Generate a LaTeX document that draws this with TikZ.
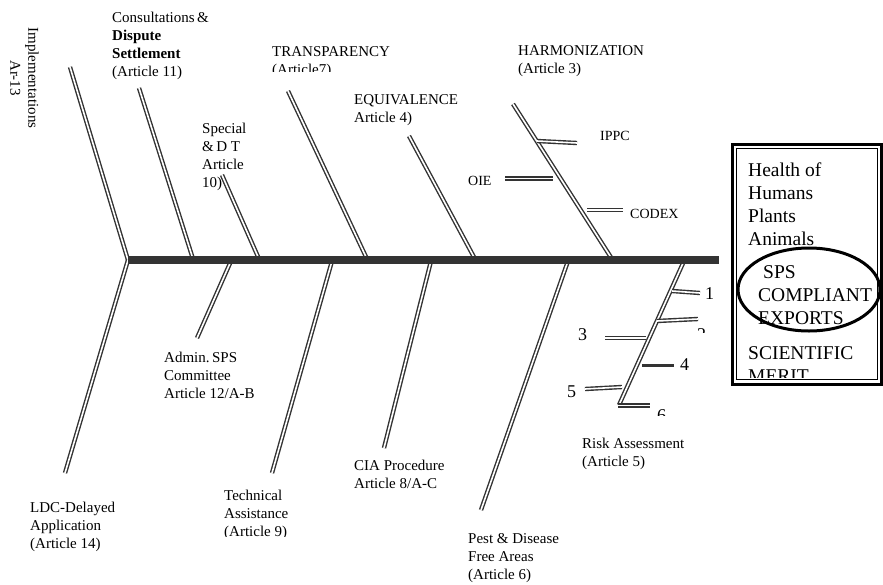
\documentclass[tikz,border=0pt]{standalone}
\usepackage{fontspec}
\setmainfont{Liberation Serif}
\usetikzlibrary{positioning}

\definecolor{bonegray}{HTML}{333333}

\begin{document}
\begin{tikzpicture}[x=1pt, y=-1pt,
	bone/.style = { draw=bonegray, line width=1.4pt, double=white, double distance=1.6pt },
	spine/.style = { draw=bonegray, line width=8pt },
	lbl/.style = { anchor=base west, align=left, inner sep=0pt, font=\fontsize{15}{18}\selectfont },
	big/.style = { lbl, font=\fontsize{19.5}{22.7}\selectfont },
	num/.style = { lbl, font=\fontsize{18}{20}\selectfont }]

  \useasboundingbox (0,0) rectangle (883,584);

  % ends of the bones
  \coordinate (head) at (128,260);
  \coordinate (tail) at (719,260);
  \coordinate (impl-top) at (70,67);
  \coordinate (cons-top) at (139,88);   \coordinate (cons-foot) at (193,259);
  \coordinate (sdt-top) at (222,175);   \coordinate (sdt-foot) at (259,259);
  \coordinate (tran-top) at (288,91);   \coordinate (tran-foot) at (367,259);
  \coordinate (equi-top) at (409,136);  \coordinate (equi-foot) at (475,259);
  \coordinate (harm-top) at (513,104);  \coordinate (harm-foot) at (612,259);
  \coordinate (ldc-end) at (65,473);
  \coordinate (adm-root) at (231,261);  \coordinate (adm-end) at (197,338);
  \coordinate (tech-root) at (332,261); \coordinate (tech-end) at (272,473);
  \coordinate (cia-root) at (431,261);  \coordinate (cia-end) at (384,448);
  \coordinate (pest-root) at (568,261); \coordinate (pest-end) at (481,510);
  \coordinate (risk-root) at (684,261); \coordinate (risk-end) at (619,405);

  \draw[bone] (impl-top) -- (head);
  \draw[bone] (cons-top) -- (cons-foot);
  \draw[bone] (sdt-top) -- (sdt-foot);
  \draw[bone] (tran-top) -- (tran-foot);
  \draw[bone] (equi-top) -- (equi-foot);
  \draw[bone] (harm-top) -- (harm-foot);
  \draw[bone] (head) -- (ldc-end);
  \draw[bone] (adm-root) -- (adm-end);
  \draw[bone] (tech-root) -- (tech-end);
  \draw[bone] (cia-root) -- (cia-end);
  \draw[bone] (pest-root) -- (pest-end);
  \draw[bone] (risk-root) -- (risk-end);
  \draw[spine] (head) -- (tail);

  % harmonization twigs
  \coordinate (ippc-a) at (537,141); \coordinate (ippc-b) at (577,143);
  \coordinate (oie-a) at (505,178.5); \coordinate (oie-b) at (553,178.5);
  \coordinate (codex-a) at (587,210); \coordinate (codex-b) at (623,210);
  \draw[bone] (ippc-a) -- (ippc-b);
  \draw[bone] (oie-a) -- (oie-b);
  \draw[bone] (codex-a) -- (codex-b);
  \node[lbl, font=\fontsize{14}{16}\selectfont] (ippc) at (600,140) {IPPC};
  \node[lbl, font=\fontsize{14}{16}\selectfont] (oie) at (468,185) {OIE};
  \node[lbl, font=\fontsize{14}{16}\selectfont] (codex) at (630,218) {CODEX};

  % risk assessment twigs
  \coordinate (r1-a) at (672,291); \coordinate (r1-b) at (700,293);
  \coordinate (r2-a) at (657,321); \coordinate (r2-b) at (698,319);
  \coordinate (r3-a) at (605,338); \coordinate (r3-b) at (646,338);
  \coordinate (r4-a) at (642,365); \coordinate (r4-b) at (674,365);
  \coordinate (r5-a) at (585,389); \coordinate (r5-b) at (622,387);
  \coordinate (r6-a) at (618,405.5); \coordinate (r6-b) at (650,405.5);
  \draw[bone] (r1-a) -- (r1-b);
  \draw[bone] (r2-a) -- (r2-b);
  \draw[bone] (r3-a) -- (r3-b);
  \draw[draw=bonegray, line width=3pt] (r4-a) -- (r4-b);
  \draw[bone] (r5-a) -- (r5-b);
  \draw[bone] (r6-a) -- (r6-b);
  \node[num] (n1) at (705,299) {1};
  \begin{scope}
    \clip (690,300) rectangle (720,332);
    \node[num] (n2) at (697,340) {2};
  \end{scope}
  \node[num] (n3) at (578,340) {3};
  \node[num] (n4) at (680,370) {4};
  \node[num] (n5) at (567,397) {5};
  \begin{scope}
    \clip (650,395) rectangle (680,415);
    \node[num] (n6) at (657,421) {6};
  \end{scope}

  % labels of the bones (placed at the baseline of their last line)
  \node[lbl, rotate=-90, align=center, anchor=center] (impl) at (24.5,78) {Implementations\\Ar-13};
  \node[lbl] (cons) at (112,76) {Consultations\,\&\\\textbf{Dispute}\\\textbf{Settlement}\\(Article 11)};
  \node[lbl] (sdt) at (202,187) {Special\\\&\,D T\\Article\\10)};
  \begin{scope}
    \clip (260,30) rectangle (420,71.5);
    \node[lbl] (tran) at (272,74) {TRANSPARENCY\\(Article7)};
  \end{scope}
  \begin{scope}
    \clip (340,80) rectangle (464,130);
    \node[lbl] (equi) at (354,122) {EQUIVALENCE\\Article 4)};
  \end{scope}
  \node[lbl] (harm) at (518,73) {HARMONIZATION\\(Article 3)};
  \node[lbl] (adm) at (164,398) {Admin.\,SPS\\Committee\\Article 12/A-B};
  \node[lbl] (ldc) at (30,548) {LDC-Delayed\\Application\\(Article 14)};
  \begin{scope}
    \clip (210,480) rectangle (340,536.5);
    \node[lbl] (tech) at (224,536) {Technical\\Assistance\\(Article 9)};
  \end{scope}
  \node[lbl] (cia) at (354,488) {CIA Procedure\\Article 8/A-C};
  \node[lbl] (pest) at (468,579) {Pest \& Disease\\Free Areas\\(Article 6)};
  \node[lbl] (risk) at (582,466) {Risk Assessment\\(Article 5)};

  % the outcome box
  \draw[line width=3pt] (732.5,144.5) rectangle (881.5,384.5);
  \draw[line width=1pt] (736.5,148.5) rectangle (877.5,379.5);
  \node[big] (health) at (748,245) {Health of\\Humans\\Plants\\Animals};
  \node[big] (sps) at (758,324) {\hspace*{5pt}SPS\\COMPLIANT\\EXPORTS};
  \begin{scope}
    \clip (740,340) rectangle (876,377.5);
    \node[big] (merit) at (748,382) {SCIENTIFIC\\MERIT};
  \end{scope}
  \draw[line width=3pt] (809,289.5) ellipse[x radius=71, y radius=41.5];
\end{tikzpicture}
\end{document}
